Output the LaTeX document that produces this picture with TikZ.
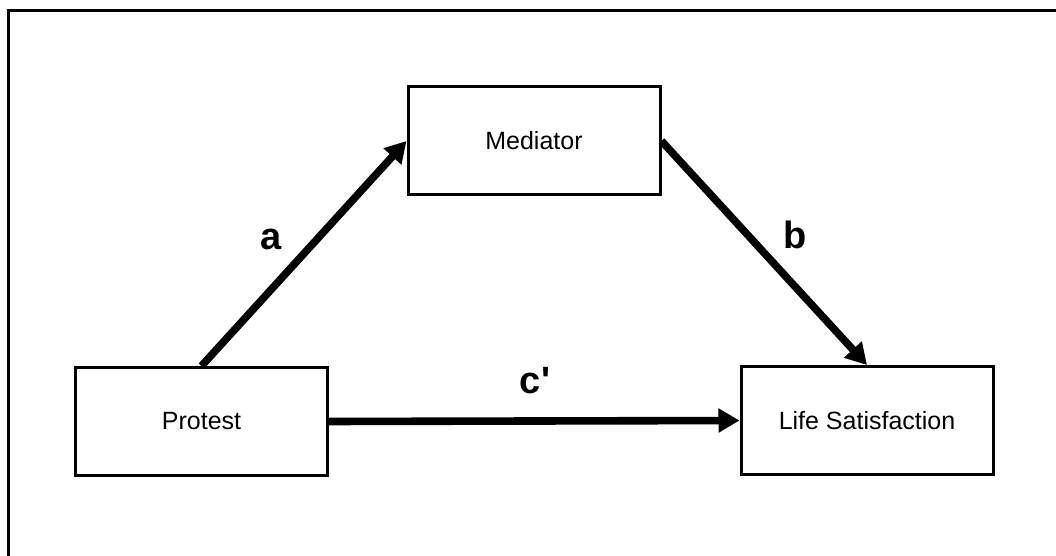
\documentclass[tikz,border=0pt]{standalone}
\usepackage{fontspec}
\setmainfont{Liberation Sans}
\usetikzlibrary{arrows.meta}
\tikzstyle{box}=[draw, line width=1.5pt, minimum width=126pt, minimum height=54pt, inner sep=0pt, font=\fontsize{12.5}{15}\selectfont]
\tikzstyle{arr}=[line width=3.8pt, -{Triangle[length=10.5pt,width=11.5pt]}]
\tikzstyle{lbl}=[inner sep=0pt, font=\fontsize{19}{23}\selectfont\bfseries]

\begin{document}
\begin{tikzpicture}[x=0.5pt, y=-0.5pt]
\useasboundingbox (0,0) rectangle (1056,556);
\draw [line width=1.5pt] (8,556)--(8,11)--(1056,11);

\draw (534,141) node [box] (med) {Mediator};
\draw (201.5,421.5) node [box] (pro) {Protest};
\draw (867,420.5) node [box] (life) {Life Satisfaction};

\draw [arr] (pro.north)--(med.west);
\draw [arr] (med.east)--(life.north);
\draw [arr] (pro.east)--(life.west);

\draw (271,239) node [lbl] (la) {a};
\draw (795,235) node [lbl] (lb) {b};
\draw (535,381) node [lbl] (lc) {c\textquotesingle};

\end{tikzpicture}
\end{document}
